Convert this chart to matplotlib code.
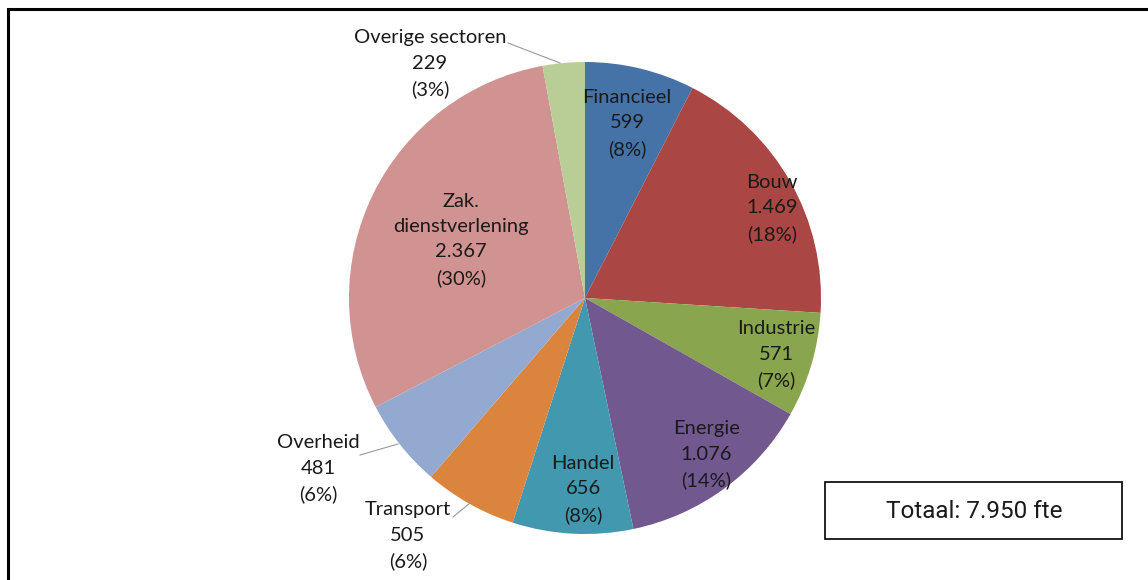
import matplotlib.pyplot as plt
from matplotlib.patches import Rectangle
import numpy as np

sectors = ['Financieel', 'Bouw', 'Industrie', 'Energie', 'Handel',
           'Transport', 'Overheid', 'Zak.\ndienstverlening', 'Overige sectoren']
fte = [599, 1469, 571, 1076, 656, 505, 481, 2367, 229]
fte_labels = ['599', '1.469', '571', '1.076', '656', '505', '481', '2.367', '229']
pct_labels = ['8%', '18%', '7%', '14%', '8%', '6%', '6%', '30%', '3%']
colors = ['#4572A7', '#AA4643', '#89A54E', '#71588F', '#4198AF',
          '#DB843D', '#93A9CF', '#D19392', '#B9CD96']
total_label = 'Totaal: 7.950 fte'

W, H = 1148, 580
fig = plt.figure(figsize=(W / 100, H / 100), dpi=100)
ax = fig.add_axes([0, 0, 1, 1])

cx, cy, r = 585, H - 298, 236
wedges, _ = ax.pie(fte, colors=colors, startangle=90, counterclock=False,
                   center=(cx, cy), radius=r, frame=True,
                   wedgeprops=dict(linewidth=0))
ax.set_xlim(0, W)
ax.set_ylim(0, H)
ax.axis('off')

font = 'Lato'
fs = 14.5

# inside labels: (radius fraction, angle nudge in degrees)
inside = {0: (0.76, 0), 1: (0.88, -4), 2: (0.845, 0), 3: (0.84, 1.5),
          4: (0.81, 2.5), 7: (0.58, 1)}
# outside labels: text centre offset from pie centre, leader line endpoints
outside = {5: ((408 - 585, 298 - 536), (453 - 585, 298 - 517), (470 - 585, 298 - 503)),
           6: ((318 - 585, 298 - 469), (360 - 585, 298 - 455), (398 - 585, 298 - 444)),
           8: ((430 - 585, 298 - 64), (508 - 585, 298 - 43), (560 - 585, 298 - 63))}

for i, w in enumerate(wedges):
    txt = f'{sectors[i]}\n{fte_labels[i]}\n({pct_labels[i]})'
    if i in inside:
        frac, nudge = inside[i]
        ang = np.deg2rad((w.theta1 + w.theta2) / 2 + nudge)
        x = cx + frac * r * np.cos(ang)
        y = cy + frac * r * np.sin(ang)
    else:
        (tx, ty), p0, p1 = outside[i]
        x, y = cx + tx, cy + ty
        ax.plot([cx + p0[0], cx + p1[0]], [cy + p0[1], cy + p1[1]],
                color='#999999', lw=0.8)
    ax.text(x, y, txt, ha='center', va='center', fontsize=fs, family=font,
            linespacing=1.6, color='#1a1a1a')

# outer frame (open to the right and bottom)
ax.add_patch(Rectangle((8, -10), W + 20, H - 9 + 10, fill=False, lw=2.2,
                       edgecolor='black', clip_on=False))

# total box
ax.add_patch(Rectangle((825, H - 539), 297, 57, fill=False, lw=1.2,
                       edgecolor='black'))
ax.text(974, H - 511, total_label, ha='center', va='center', fontsize=17.5,
        family='Roboto', color='#1a1a1a')

fig.savefig('out.png', dpi=100)
